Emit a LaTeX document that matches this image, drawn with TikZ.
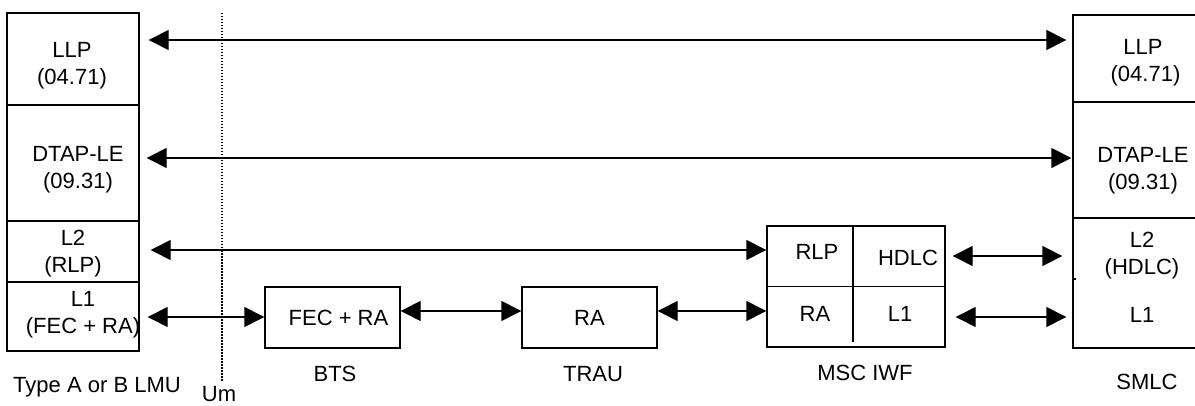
\documentclass[tikz,border=0pt]{standalone}
\usepackage{fontspec}
\setmainfont{Liberation Sans}
\usetikzlibrary{arrows.meta}
\tikzset{
  layer/.style={draw,line width=1.4pt,inner sep=0pt},
  txt/.style={align=center,inner sep=0pt,font=\fontsize{22}{27}\selectfont},
  both/.style={line width=1.4pt,{Triangle[length=20pt,width=20pt]}-{Triangle[length=20pt,width=20pt]}}
}
\begin{document}
\begin{tikzpicture}[x=1pt,y=-1pt]
\useasboundingbox (0,0) rectangle (1195,406);
\clip (0,0) rectangle (1195,406);
%% mobile side stack
\node[layer,minimum width=132pt,minimum height=92pt] (mLLP) at (73,59) {};
\node[layer,minimum width=132pt,minimum height=116pt] (mDTAP) at (73,163) {};
\node[layer,minimum width=132pt,minimum height=61pt] (mLtwo) at (73,251.5) {};
\node[layer,minimum width=132pt,minimum height=69pt] (mLone) at (73,316.5) {};
\node[txt] (tmLLP) at (72,65.5) {LLP\\(04.71)};
\node[txt] (tmDTAP) at (78,170) {DTAP-LE\\(09.31)};
\node[txt] (tmLtwo) at (73,253.5) {L2\\(RLP)};
\node[txt] (tmLone) at (83,315) {L1\\(FEC + RA)};
\node[txt] (lmob) at (97,387) {Type A or B LMU};
%% Um interface
\draw[line width=1.2pt,dash pattern=on 1.5pt off 1.5pt] (222,13) -- (222,381);
\node[txt] (lum) at (219,394) {Um};
%% BTS, TRAU
\node[layer,minimum width=135pt,minimum height=61pt,txt] (bts) at (332.5,317.5) {\hspace{12pt}FEC + RA};
\node[txt] (lbts) at (335,374) {BTS};
\node[layer,minimum width=135pt,minimum height=61pt,txt] (trau) at (589.5,317.5) {RA};
\node[txt] (ltrau) at (593,374) {TRAU};
%% MSC IWF
\node[layer,minimum width=178pt,minimum height=121pt] (msc) at (856,286.5) {};
\draw[line width=1.4pt] (msc.west) -- (msc.east);
\draw[line width=1.4pt] (msc.north -| 853,0) -- (853,342);
\node[txt] (cRLP) at (817,252) {RLP};
\node[txt] (cHDLC) at (908,258) {HDLC};
\node[txt] (cRA) at (815,314) {RA};
\node[txt] (cLone) at (900,314) {L1};
\node[txt] (lmsc) at (865,373) {MSC IWF};
%% SMLC stack
\node[layer,minimum width=142pt,minimum height=87pt] (sLLP) at (1144,58.5) {};
\node[layer,minimum width=142pt,minimum height=116pt] (sDTAP) at (1144,160) {};
\node[layer,minimum width=142pt,minimum height=130pt] (sLow) at (1144,283) {};
\draw[line width=1.2pt] (sLow.west |- 0,279) -- ++(4,0);
\node[txt] (tsLLP) at (1143,62.5) {LLP\\\hspace{5pt}(04.71)};
\node[txt] (tsDTAP) at (1143,171) {DTAP-LE\\(09.31)};
\node[txt] (tsLtwo) at (1142,256) {L2\\(HDLC)};
\node[txt] (tsLone) at (1142,315) {L1};
\node[txt] (lsmlc) at (1147,382) {SMLC};
%% peer arrows
\draw[both,shorten <=9pt,shorten >=6pt] (mLLP.east |- 0,40) -- (sLLP.west |- 0,40);
\draw[both,shorten <=7pt,shorten >=1pt] (mDTAP.east |- 0,158) -- (sDTAP.west |- 0,158);
\draw[both,shorten <=11pt] (mLtwo.east |- 0,250) -- (msc.west |- 0,250);
\draw[both,shorten <=8pt] (mLone.east |- 0,317) -- (bts.west |- 0,317);
\draw[both] (bts.east |- 0,311) -- (trau.west |- 0,311);
\draw[both] (trau.east |- 0,311) -- (msc.west |- 0,311);
\draw[both,shorten <=7pt,shorten >=10pt] (msc.east |- 0,256) -- (sLow.west |- 0,256);
\draw[both,shorten <=10pt,shorten >=6pt] (msc.east |- 0,317) -- (sLow.west |- 0,317);
\end{tikzpicture}
\end{document}
